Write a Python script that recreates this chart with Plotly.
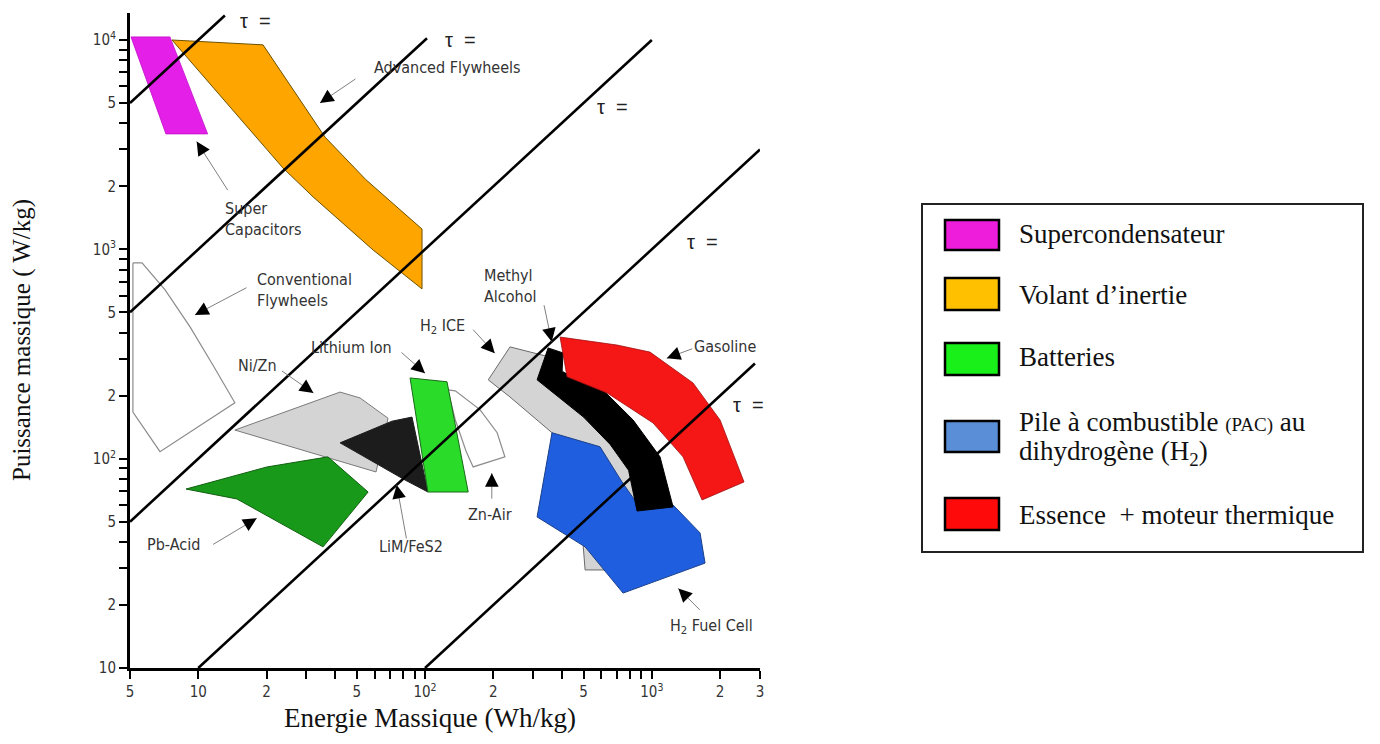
import math
import plotly.graph_objects as go

# ---------------- data : Energie massique (Wh/kg), Puissance massique (W/kg) ----------------
supercap_E = [5.05, 7.5, 11.0, 7.2]
supercap_P = [10350, 10350, 3560, 3560]

adv_flywheel_E = [7.66, 19.3, 36.2, 54.9, 97, 97, 59, 32.1, 23.6]
adv_flywheel_P = [10000, 9480, 3440, 2150, 1250, 647, 993, 1780, 2450]

conv_flywheel_E = [5.15, 5.65, 7.14, 9.2, 11.6, 14.5, 6.78, 5.15]
conv_flywheel_P = [861, 861, 640, 426, 280, 185, 108, 167]

nizn_E = [14.5, 42.2, 51.7, 68.7, 60.8, 36.2]
nizn_P = [137, 208, 195, 156, 86.4, 102]

limfes2_E = [42.2, 71.5, 87.6, 103, 81.6]
limfes2_P = [119, 151, 158, 69.3, 79.1]

liion_E = [85.9, 125, 155, 103]
liion_P = [243, 233, 69.3, 69.3]

znair_E = [126, 136, 175, 208, 225, 163, 152, 136]
znair_P = [213, 211, 171, 133, 102, 91.3, 108, 153]

pbacid_E = [8.83, 20.1, 37.3, 56.1, 35.5, 14.8]
pbacid_P = [71.6, 91.3, 102, 69.3, 37.9, 64.2]

h2ice_E = [190, 237, 338, 534, 724, 888, 655, 508, 498, 363, 237]
h2ice_P = [238, 342, 310, 202, 123, 63.5, 29.4, 29.4, 38.7, 133, 197]

h2fc_E = [363, 591, 739, 888, 1241, 1632, 1717, 747, 508, 312]
h2fc_P = [133, 114, 77.4, 58.2, 60.1, 44.2, 31.7, 22.8, 37.9, 52.7]

methanol_E = [349, 406, 402, 591, 827, 1087, 1241, 861, 790, 655, 500, 380, 312]
methanol_P = [338, 320, 260, 220, 153, 102, 58.8, 56.2, 88.0, 117, 158, 200, 238]

gasoline_E = [394, 702, 982, 1520, 2000, 2551, 1666, 1373, 1013, 635, 423]
gasoline_P = [381, 349, 323, 230, 153, 77.4, 63.5, 102, 148, 206, 246]

# constant time-constant lines  P = k * E
tau_k = [1000, 100, 10, 1, 0.1]
tau_E_start = [5, 5, 5, 10, 100]
tau_E_end = [13.1, 102, 1000, 3000, 2850]

# axis ticks
x_tick_vals = [5, 10, 20, 30, 40, 50, 60, 70, 80, 90, 100, 200, 300, 400, 500, 600, 700, 800, 900, 1000, 2000, 3000]
x_tick_labels = {5: "5", 10: "10", 20: "2", 50: "5", 100: "10<sup>2</sup>", 200: "2", 500: "5",
                 1000: "10<sup>3</sup>", 2000: "2", 3000: "3"}
y_tick_vals = [d * m for d in (10, 100, 1000) for m in range(1, 10)] + [10000]
y_tick_labels = {10: "10", 20: "2", 50: "5", 100: "10<sup>2</sup>", 200: "2", 500: "5",
                 1000: "10<sup>3</sup>", 2000: "2", 5000: "5", 10000: "10<sup>4</sup>"}

legend_names = ["Supercondensateur", "Volant d\u2019inertie", "Batteries",
                "Pile \u00e0 combustible", "Essence\u00a0 + moteur thermique"]
legend_colors = ["#EE1CDB", "#FFC000", "#19F019", "#5A8ED6", "#FF0A0A"]

# ---------------- figure ----------------
fig = go.Figure()


def poly(E, P, fill, line, width=1.0):
    fig.add_trace(go.Scatter(x=E + E[:1], y=P + P[:1], mode="lines", fill="toself",
                             fillcolor=fill, line=dict(color=line, width=width),
                             hoverinfo="skip", showlegend=False))


poly(conv_flywheel_E, conv_flywheel_P, "rgba(255,255,255,0)", "#8c8c8c", 1.2)
poly(znair_E, znair_P, "rgba(255,255,255,0)", "#8c8c8c", 1.2)
poly(nizn_E, nizn_P, "#D4D4D4", "#7a7a7a", 1.0)
poly(limfes2_E, limfes2_P, "#1C1C1C", "#1C1C1C", 1.0)
poly(liion_E, liion_P, "#2ADB2A", "#1a6a1a", 1.0)
poly(pbacid_E, pbacid_P, "#18991A", "#106010", 1.0)
poly(h2ice_E, h2ice_P, "#D4D4D4", "#6a6a6a", 1.0)
poly(h2fc_E, h2fc_P, "#1F5FDF", "#1a3f8a", 1.0)
poly(methanol_E, methanol_P, "#000000", "#000000", 1.0)
poly(gasoline_E, gasoline_P, "#F51616", "#a01010", 0.8)
poly(adv_flywheel_E, adv_flywheel_P, "#FFA500", "#6b5200", 1.0)
poly(supercap_E, supercap_P, "#E41FE8", "#c010c8", 0.8)

for k, e0, e1 in zip(tau_k, tau_E_start, tau_E_end):
    fig.add_trace(go.Scatter(x=[e0, e1], y=[k * e0, k * e1], mode="lines",
                             line=dict(color="black", width=2.6),
                             hoverinfo="skip", showlegend=False))

L = math.log10
label_font = dict(family="Liberation Sans Narrow, Arial Narrow, DejaVu Sans Condensed, sans-serif",
                  size=16, color="#333333")
ann = []

# curve labels (E, P, text, xanchor)
labels = [
    (125, 7357, "Advanced Flywheels", "center"),
    (12.9, 1397, "Super<br>Capacitors", "left"),
    (17.8, 640, "Conventional<br>Flywheels", "left"),
    (18.2, 280, "Ni/Zn", "center"),
    (47.2, 338, "Lithium Ion", "center"),
    (120, 426, "H<sub>2</sub> ICE", "center"),
    (178, 669, "Methyl<br>Alcohol", "left"),
    (2104, 342, "Gasoline", "center"),
    (193, 54.4, "Zn-Air", "center"),
    (86.8, 37.9, "LiM/FeS2", "center"),
    (7.74, 38.7, "Pb-Acid", "center"),
    (1825, 15.7, "H<sub>2</sub> Fuel Cell", "center"),
]
for e, p, t, xa in labels:
    ann.append(dict(x=L(e), y=L(p), xref="x", yref="y", text=t, showarrow=False,
                    xanchor=xa, yanchor="middle", align="left", font=label_font))

# tau labels
for e, p in [(17.8, 12300), (143, 10000), (668, 4790), (1666, 1085), (2657, 181)]:
    ann.append(dict(x=L(e), y=L(p), xref="x", yref="y", text="\u03c4\u00a0\u00a0=", showarrow=False,
                    xanchor="center", yanchor="middle",
                    font=dict(family="Liberation Sans, Arial, sans-serif", size=20, color="#222222")))

# pointer arrows: tip (E, P) and tail offset in pixels
arrows = [
    (34.4, 5003, 37, -25), (9.84, 3270, 32, 50), (9.67, 486, 53, -28), (32.2, 206, -33, -23),
    (100, 256, -25, -22), (203, 319, -23, -25), (362, 362, -8, -38), (1164, 302, 27, -10),
    (197, 85.2, 0, 27), (75, 74.9, 10, 55), (18.1, 51.9, -45, 27), (1309, 24.0, 23, 23),
]
for e, p, ax, ay in arrows:
    ann.append(dict(x=L(e), y=L(p), xref="x", yref="y", ax=ax, ay=ay, text="", showarrow=True,
                    arrowhead=0, arrowwidth=1, arrowcolor="#808080", standoff=0))
    s = 10.0 / math.hypot(ax, ay)
    ann.append(dict(x=L(e), y=L(p), xref="x", yref="y", ax=ax * s, ay=ay * s, text="", showarrow=True,
                    arrowhead=2, arrowsize=1.7, arrowwidth=1.6, arrowcolor="black", standoff=0))

# axis titles
title_font = dict(family="Liberation Serif, Times New Roman, serif", size=27, color="#111111")

# page pixel -> paper coordinates (plot area spans page x 130..760, y 13..668)
def px_x(p):
    return (p - 130) / 630.0


def px_y(p):
    return (668 - p) / 655.0


ann.append(dict(x=px_x(430), y=px_y(718), xref="paper", yref="paper", text="Energie Massique (Wh/kg)",
                showarrow=False, xanchor="center", yanchor="middle", font=title_font))
ann.append(dict(x=px_x(22), y=px_y(340), xref="paper", yref="paper", text="Puissance massique ( W/kg)",
                showarrow=False, xanchor="center", yanchor="middle", textangle=-90,
                font=dict(title_font, size=25)))

# custom legend
shapes = [dict(type="rect", xref="paper", yref="paper", x0=px_x(922), x1=px_x(1363),
               y0=px_y(552), y1=px_y(204), line=dict(color="#222222", width=2), fillcolor="white", layer="below")]
rows = [(220, 250), (278, 310), (343, 375), (421, 452), (498, 530)]
leg_font = dict(family="Liberation Serif, Times New Roman, serif", size=27, color="#111111")
for (top, bot), col, name in zip(rows, legend_colors, legend_names):
    shapes.append(dict(type="rect", xref="paper", yref="paper", x0=px_x(945), x1=px_x(999),
                       y0=px_y(bot), y1=px_y(top), line=dict(color="black", width=2.5), fillcolor=col))
for yc, name in zip([234, 295, 357, 515], [legend_names[0], legend_names[1], legend_names[2], legend_names[4]]):
    ann.append(dict(x=px_x(1017), y=px_y(yc), xref="paper", yref="paper", text=name, showarrow=False,
                    xanchor="left", yanchor="middle", font=leg_font))
ann.append(dict(x=px_x(1017), y=px_y(422), xref="paper", yref="paper",
                text=legend_names[3] + " <span style='font-size:19px'>(PAC)</span> au", showarrow=False,
                xanchor="left", yanchor="middle", font=leg_font))
ann.append(dict(x=px_x(1017), y=px_y(453), xref="paper", yref="paper",
                text="dihydrog\u00e8ne (H<sub>2</sub>)", showarrow=False,
                xanchor="left", yanchor="middle", font=leg_font))

tick_font = dict(family="Liberation Sans Narrow, Arial Narrow, DejaVu Sans Condensed, sans-serif",
                 size=15, color="#333333")
# the page adds an 8 px body margin, so the figure is drawn 8 px smaller and offset
fig.update_layout(
    width=1372, height=736, autosize=False,
    margin=dict(l=122, r=620, t=5, b=76, pad=0),
    plot_bgcolor="white", paper_bgcolor="white", showlegend=False,
    annotations=ann, shapes=shapes,
    xaxis=dict(type="log", range=[L(5), L(3000)], showgrid=False, zeroline=False,
               showline=True, linecolor="black", linewidth=3,
               ticks="outside", ticklen=8, tickwidth=2, tickcolor="black",
               tickvals=x_tick_vals, ticktext=[x_tick_labels.get(v, "") for v in x_tick_vals],
               tickfont=tick_font),
    yaxis=dict(type="log", range=[1, 4.129], showgrid=False, zeroline=False,
               showline=True, linecolor="black", linewidth=3,
               ticks="outside", ticklen=8, tickwidth=2, tickcolor="black",
               tickvals=y_tick_vals, ticktext=[y_tick_labels.get(v, "") for v in y_tick_vals],
               tickfont=tick_font),
)

fig.write_html("out.html")
